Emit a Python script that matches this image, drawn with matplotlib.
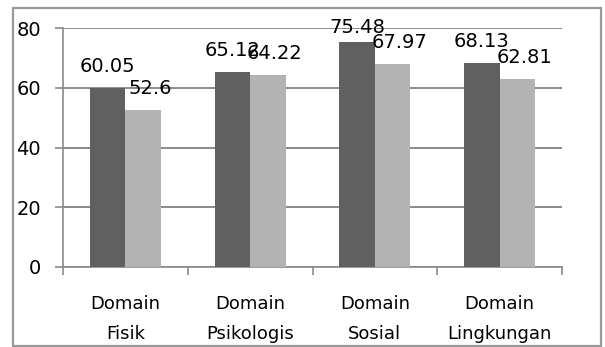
import matplotlib
matplotlib.use("Agg")
import matplotlib.pyplot as plt
from matplotlib.patches import Rectangle
import numpy as np

categories = ["Domain\nFisik", "Domain\nPsikologis", "Domain\nSosial", "Domain\nLingkungan"]
series_a = [60.05, 65.12, 75.48, 68.13]
series_b = [52.6, 64.22, 67.97, 62.81]
y_ticks = [0, 20, 40, 60, 80]

W, H, DPI = 605, 347, 100
fig = plt.figure(figsize=(W / DPI, H / DPI), dpi=DPI)
plt.rcParams['font.family'] = ['DejaVu Sans']
FS = 13
FS_NUM = 14

# outer chart frame
fig.patches.append(Rectangle((13 / W, 1.5 / H), 588 / W, 338 / H, transform=fig.transFigure,
                             fill=False, edgecolor="#999999", linewidth=1.6))

ax = fig.add_axes([63 / W, 80 / H, (562 - 63) / W, (267 - 28) / H])
x = np.arange(len(categories))
w = 0.285
grid_c = "#8a8a8a"
y_max = 80

ax.bar(x - w / 2, series_a, width=w, color="#606060", zorder=3)
ax.bar(x + w / 2, series_b, width=w, color="#b3b3b3", zorder=3)

# value labels float above each bar, kept inside the plot area
lift = 7.2
for xi, v in zip(x, series_a):
    ax.annotate(f"{v:g}", (xi - w / 2, min(v + lift, y_max + 0.3)), xytext=(0, 0),
                textcoords="offset points", ha="center", va="center", fontsize=FS_NUM,
                color="black", zorder=5, annotation_clip=False)
for xi, v in zip(x, series_b):
    ax.annotate(f"{v:g}", (xi + w / 2, min(v + lift, y_max + 0.3)), xytext=(5, 0),
                textcoords="offset points", ha="center", va="center", fontsize=FS_NUM,
                color="black", zorder=5, annotation_clip=False)

ax.set_xlim(-0.5, len(categories) - 0.5)
ax.set_ylim(0, y_max)
ax.set_yticks(y_ticks)
ax.set_yticklabels([str(t) for t in y_ticks], fontsize=FS_NUM)
ax.yaxis.grid(True, color=grid_c, linewidth=1.4, zorder=0)
ax.set_axisbelow(True)

# category boundaries carry the tick marks; labels sit at the centres
ax.set_xticks(np.arange(-0.5, len(categories), 1.0))
ax.set_xticklabels([])
ax.set_xticks(x, minor=True)
ax.set_xticklabels(categories, minor=True, fontsize=FS, linespacing=1.85)
ax.tick_params(axis="x", which="minor", length=0, pad=20)
ax.tick_params(axis="x", which="major", length=6, width=1.2, color=grid_c)
ax.tick_params(axis="y", length=6, width=1.2, color=grid_c, pad=10)

for s in ("top", "right"):
    ax.spines[s].set_visible(False)
for s in ("left", "bottom"):
    ax.spines[s].set_color(grid_c)
    ax.spines[s].set_linewidth(1.2)

fig.savefig("out.png", dpi=DPI)
